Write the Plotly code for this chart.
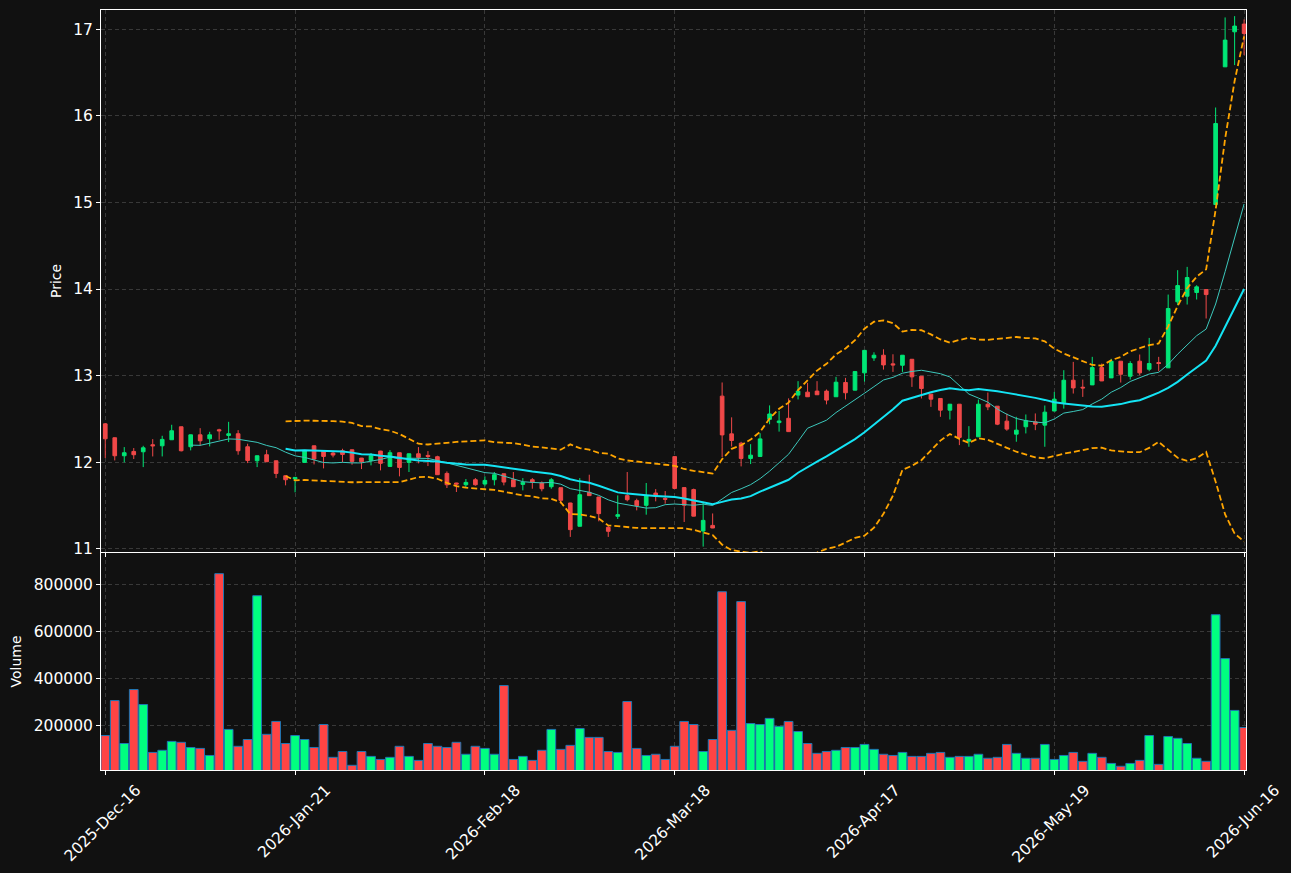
import pandas as pd
import plotly.graph_objects as go
from plotly.subplots import make_subplots

TICK_LABELS = ["2025-Dec-16", "2026-Jan-21", "2026-Feb-18", "2026-Mar-18",
               "2026-Apr-17", "2026-May-19", "2026-Jun-16"]

OPEN = [12.442, 12.281, 12.073, 12.123, 12.119, 12.200, 12.188, 12.258, 12.408, 12.177,
        12.315, 12.269, 12.373, 12.308, 12.327, 12.177, 12.015, 12.085, 12.015, 11.842,
        11.804, 11.996, 12.188, 12.131, 12.104, 12.131, 12.142, 12.046, 12.019, 12.127,
        11.950, 12.108, 11.996, 12.096, 12.077, 12.062, 11.869, 11.758, 11.738, 11.796,
        11.746, 11.796, 11.865, 11.796, 11.742, 11.796, 11.758, 11.715, 11.704, 11.527,
        11.258, 11.650, 11.596, 11.246, 11.373, 11.612, 11.554, 11.500, 11.642, 11.580,
        12.063, 11.705, 11.682, 11.203, 11.268, 12.762, 12.326, 12.218, 12.042, 12.065,
        12.494, 12.456, 12.506, 12.774, 12.808, 12.820, 12.820, 12.755, 12.920, 12.831,
        13.031, 13.204, 13.235, 13.135, 13.119, 13.188, 12.992, 12.785, 12.735, 12.600,
        12.669, 12.242, 12.292, 12.669, 12.646, 12.473, 12.323, 12.408, 12.465, 12.427,
        12.590, 12.684, 12.946, 12.865, 12.892, 13.092, 12.973, 13.166, 12.992, 13.166,
        13.073, 13.150, 13.089, 13.852, 13.917, 13.960, 13.994, 14.977, 16.568, 16.973,
        17.062]
HIGH = [12.450, 12.285, 12.173, 12.162, 12.188, 12.265, 12.304, 12.431, 12.410, 12.318,
        12.392, 12.350, 12.385, 12.465, 12.369, 12.212, 12.075, 12.142, 12.018, 11.845,
        11.826, 12.138, 12.190, 12.133, 12.127, 12.154, 12.145, 12.048, 12.104, 12.130,
        12.138, 12.110, 12.098, 12.173, 12.127, 12.073, 11.892, 11.760, 11.804, 11.815,
        11.835, 11.885, 11.867, 11.885, 11.815, 11.815, 11.777, 11.815, 11.706, 11.530,
        11.815, 11.854, 11.598, 11.269, 11.615, 11.885, 11.577, 11.758, 11.688, 11.665,
        12.066, 11.707, 11.693, 11.540, 11.406, 12.920, 12.517, 12.234, 12.207, 12.333,
        12.655, 12.590, 12.736, 12.935, 12.916, 12.935, 12.839, 12.985, 12.973, 13.048,
        13.293, 13.269, 13.304, 13.246, 13.237, 13.190, 12.994, 12.787, 12.737, 12.671,
        12.671, 12.415, 12.723, 12.804, 12.648, 12.562, 12.523, 12.550, 12.562, 12.654,
        12.811, 13.062, 13.158, 12.954, 13.216, 13.139, 13.193, 13.168, 13.166, 13.243,
        13.435, 13.216, 13.936, 14.218, 14.256, 14.044, 13.996, 16.098, 17.139, 17.154,
        17.116]
LOW = [12.046, 12.019, 11.996, 12.035, 11.942, 12.065, 12.065, 12.255, 12.123, 12.135,
       12.188, 12.181, 12.258, 12.231, 12.085, 11.988, 11.942, 12.000, 11.815, 11.731,
       11.650, 11.993, 11.973, 11.927, 12.054, 12.000, 11.969, 11.919, 11.962, 11.904,
       11.946, 11.835, 11.885, 11.985, 11.954, 11.852, 11.700, 11.654, 11.700, 11.727,
       11.720, 11.731, 11.731, 11.713, 11.673, 11.692, 11.662, 11.692, 11.519, 11.135,
       11.256, 11.608, 11.315, 11.135, 11.342, 11.546, 11.442, 11.392, 11.546, 11.519,
       11.692, 11.307, 11.373, 11.023, 11.236, 12.057, 12.180, 11.950, 11.977, 12.063,
       12.437, 12.352, 12.350, 12.724, 12.753, 12.776, 12.667, 12.753, 12.724, 12.829,
       12.930, 13.169, 13.069, 13.042, 13.042, 12.869, 12.735, 12.638, 12.523, 12.492,
       12.196, 12.177, 12.290, 12.600, 12.427, 12.362, 12.235, 12.331, 12.369, 12.177,
       12.588, 12.618, 12.792, 12.753, 12.890, 12.936, 12.971, 12.919, 12.954, 13.004,
       13.050, 13.050, 13.087, 13.813, 13.821, 13.879, 13.659, 14.975, 16.566, 16.588,
       16.703]
CLOSE = [12.269, 12.073, 12.108, 12.085, 12.165, 12.188, 12.262, 12.362, 12.131, 12.315,
         12.246, 12.315, 12.362, 12.327, 12.131, 12.019, 12.073, 12.004, 11.869, 11.796,
         11.823, 12.135, 12.035, 12.065, 12.081, 12.088, 12.008, 12.004, 12.073, 11.985,
         12.108, 11.938, 12.096, 12.054, 12.065, 11.854, 11.738, 11.746, 11.765, 11.738,
         11.788, 11.854, 11.769, 11.715, 11.765, 11.769, 11.692, 11.796, 11.558, 11.219,
         11.623, 11.612, 11.404, 11.200, 11.392, 11.565, 11.496, 11.612, 11.604, 11.570,
         11.695, 11.502, 11.375, 11.326, 11.238, 12.314, 12.249, 12.042, 12.080, 12.268,
         12.556, 12.475, 12.352, 12.820, 12.755, 12.778, 12.716, 12.923, 12.801, 13.046,
         13.291, 13.235, 13.123, 13.123, 13.235, 12.985, 12.850, 12.727, 12.600, 12.669,
         12.285, 12.262, 12.669, 12.638, 12.438, 12.381, 12.369, 12.477, 12.438, 12.577,
         12.727, 12.946, 12.857, 12.857, 13.092, 12.938, 13.166, 13.015, 13.139, 13.031,
         13.139, 13.139, 13.775, 14.040, 14.133, 14.025, 13.936, 15.913, 16.877, 17.039,
         16.954]
VOLUME = [157000, 306000, 123000, 353000, 289000, 85000, 94000, 132000, 128000, 106000,
          102000, 72000, 847000, 183000, 111000, 140000, 753000, 162000, 217000, 123000,
          157000, 140000, 106000, 204000, 64000, 89000, 30000, 89000, 68000, 55000,
          64000, 111000, 68000, 51000, 123000, 111000, 106000, 128000, 77000, 111000,
          102000, 77000, 370000, 55000, 68000, 51000, 94000, 183000, 98000, 115000,
          187000, 149000, 149000, 89000, 85000, 302000, 102000, 72000, 77000, 55000,
          111000, 217000, 204000, 89000, 140000, 770000, 179000, 728000, 208000, 204000,
          230000, 196000, 217000, 174000, 123000, 81000, 89000, 94000, 106000, 106000,
          119000, 98000, 77000, 72000, 85000, 68000, 68000, 81000, 85000, 64000,
          68000, 68000, 77000, 60000, 64000, 119000, 81000, 60000, 60000, 119000,
          55000, 72000, 85000, 47000, 81000, 64000, 38000, 26000, 38000, 51000,
          157000, 34000, 153000, 145000, 123000, 60000, 47000, 672000, 485000, 264000,
          191000]

GREEN_C = "#00e676"
RED_C = "#f04848"
GREEN_V = "#00ff80"
RED_V = "#ff4444"
BG = "#111111"
GRID = "rgba(255,255,255,0.17)"

n = len(CLOSE)
x = list(range(n))
close = pd.Series(CLOSE)
ma10 = close.rolling(10).mean()
ma20 = close.rolling(20).mean()
sd20 = close.rolling(20).std()
upper = ma20 + 2 * sd20
lower = ma20 - 2 * sd20

fig = make_subplots(rows=2, cols=1, shared_xaxes=True, vertical_spacing=0.001)

fig.add_trace(go.Candlestick(
    x=x, open=OPEN, high=HIGH, low=LOW, close=CLOSE,
    increasing=dict(line=dict(color=GREEN_C, width=1), fillcolor=GREEN_C),
    decreasing=dict(line=dict(color=RED_C, width=1), fillcolor=RED_C),
    whiskerwidth=0, showlegend=False, hoverinfo="skip"), row=1, col=1)

fig.add_trace(go.Scatter(x=x, y=ma10, mode="lines",
                         line=dict(color="#3cc8bc", width=1), showlegend=False), row=1, col=1)
fig.add_trace(go.Scatter(x=x, y=ma20, mode="lines",
                         line=dict(color="#14e4f4", width=2), showlegend=False), row=1, col=1)
fig.add_trace(go.Scatter(x=x, y=upper, mode="lines",
                         line=dict(color="#ffa500", width=1.8, dash="6px,3px"), showlegend=False), row=1, col=1)
fig.add_trace(go.Scatter(x=x, y=lower, mode="lines",
                         line=dict(color="#ffa500", width=1.8, dash="6px,3px"), showlegend=False), row=1, col=1)

vcolors = [GREEN_V if c >= o else RED_V for o, c in zip(OPEN, CLOSE)]
fig.add_trace(go.Bar(x=x, y=VOLUME, marker=dict(color=vcolors, line=dict(color="#1f77b4", width=1)),
                     showlegend=False), row=2, col=1)

TICK_FONT = dict(family="DejaVu Sans", size=15.5, color="white")
TITLE_FONT = dict(family="DejaVu Sans", size=14, color="white")
axis_common = dict(showline=True, linecolor="white", linewidth=1, mirror=True,
                   showgrid=True, gridcolor=GRID, griddash="4px,3px", gridwidth=1,
                   ticks="outside", ticklen=4, tickcolor="white", zeroline=False,
                   tickfont=TICK_FONT, automargin=False)

tickvals = list(range(0, n, 20))
fig.update_layout(
    width=1291, height=873,
    paper_bgcolor=BG, plot_bgcolor=BG,
    font=dict(family="DejaVu Sans", size=14, color="white"),
    margin=dict(l=101, r=45, t=10, b=103, autoexpand=False),
    bargap=0.08, boxgap=0.45,
    xaxis=dict(**axis_common, range=[-0.45, 120.2], tickvals=tickvals, showticklabels=False,
               rangeslider=dict(visible=False)),
    xaxis2=dict(**axis_common, range=[-0.45, 120.2], tickvals=tickvals, ticktext=TICK_LABELS,
                tickangle=-45, ticklabelshift=31),
    yaxis=dict(**axis_common, domain=[0.287, 1], range=[10.962, 17.225], dtick=1,
               title=dict(text="Price", font=TITLE_FONT, standoff=8)),
    yaxis2=dict(**axis_common, domain=[0, 0.2855], range=[10000, 935000],
                tickvals=[200000, 400000, 600000, 800000], tickformat="d",
                title=dict(text="Volume", font=TITLE_FONT, standoff=8)),
)

fig.write_html("out.html")
